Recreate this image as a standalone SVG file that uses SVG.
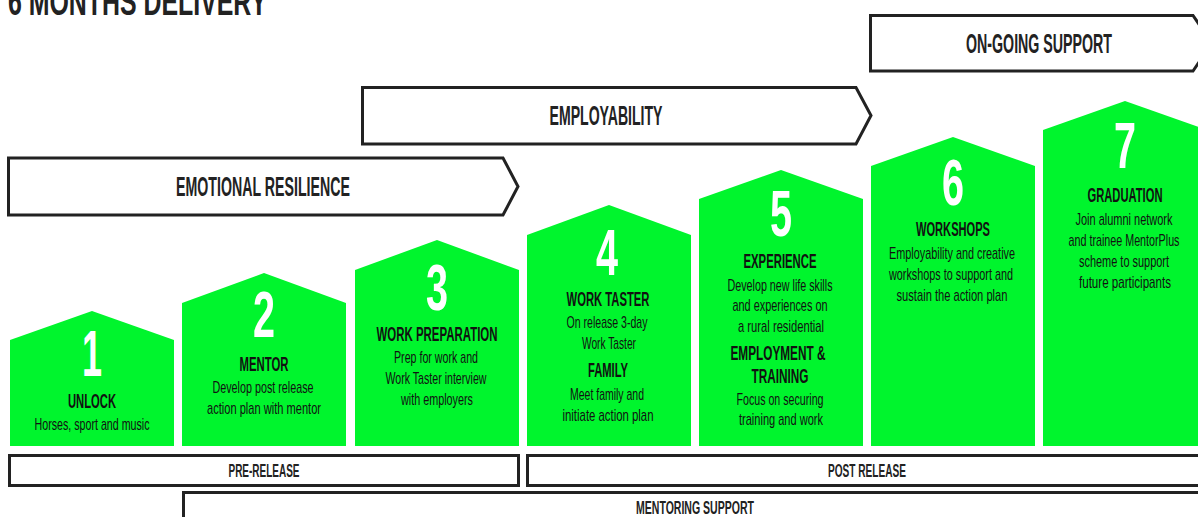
<svg xmlns="http://www.w3.org/2000/svg" width="1198" height="517" viewBox="0 0 1198 517">
<style>
.house{fill:#00f52d}
.frame{fill:#fff;stroke:#222;stroke-width:3}
.num{font-family:"Liberation Sans Narrow","Liberation Sans",Arial,sans-serif;font-weight:bold;font-size:64px;fill:#fff;text-anchor:middle}
.h{font-family:"Liberation Sans Narrow","Liberation Sans",Arial,sans-serif;font-weight:bold;font-size:21px;fill:#111;text-anchor:middle}
.b{font-family:"Liberation Sans Narrow","Liberation Sans",Arial,sans-serif;font-size:17px;fill:#111;text-anchor:middle}
.lab{font-family:"Liberation Sans Narrow","Liberation Sans",Arial,sans-serif;font-weight:bold;font-size:27px;fill:#222;text-anchor:middle}
.bar{font-family:"Liberation Sans Narrow","Liberation Sans",Arial,sans-serif;font-weight:bold;font-size:19px;fill:#222;text-anchor:middle}
</style>
<text x="8" y="15" font-family="'Liberation Sans Narrow','Liberation Sans',Arial,sans-serif" font-weight="bold" font-size="38" fill="#222" textLength="259" lengthAdjust="spacingAndGlyphs">6 MONTHS DELIVERY</text>

<g id="arrow-ongoing">
<polygon class="frame" points="870.5,15.5 1193,15.5 1212,43 1193,71 870.5,71"/>
<text class="lab" x="1039" y="53" textLength="146" lengthAdjust="spacingAndGlyphs">ON-GOING SUPPORT</text>
</g>
<g id="arrow-employability">
<polygon class="frame" points="362.5,87.5 856,87.5 871,115.5 856,144 362.5,144"/>
<text class="lab" x="606" y="125" textLength="113" lengthAdjust="spacingAndGlyphs">EMPLOYABILITY</text>
</g>
<g id="arrow-emotional">
<polygon class="frame" points="8.5,158 503,158 518,186.5 503,215 8.5,215"/>
<text class="lab" x="263" y="196" textLength="174" lengthAdjust="spacingAndGlyphs">EMOTIONAL RESILIENCE</text>
</g>

<g id="step1">
<polygon class="house" points="10,446 10,340 92,311 174,340 174,446"/>
<text class="num" x="92" y="376" textLength="20" lengthAdjust="spacingAndGlyphs">1</text>
<text class="h" x="92" y="408" textLength="48" lengthAdjust="spacingAndGlyphs">UNLOCK</text>
<text class="b" x="92" y="430" textLength="115" lengthAdjust="spacingAndGlyphs">Horses, sport and music</text>
</g>
<g id="step2">
<polygon class="house" points="182,446 182,303 264,273 346,303 346,446"/>
<text class="num" x="264" y="337" textLength="22" lengthAdjust="spacingAndGlyphs">2</text>
<text class="h" x="264" y="371" textLength="49" lengthAdjust="spacingAndGlyphs">MENTOR</text>
<text class="b" x="263" y="393" textLength="101" lengthAdjust="spacingAndGlyphs">Develop post release</text>
<text class="b" x="264" y="414" textLength="114" lengthAdjust="spacingAndGlyphs">action plan with mentor</text>
</g>
<g id="step3">
<polygon class="house" points="355,446 355,270 437,240 519,270 519,446"/>
<text class="num" x="437" y="310" textLength="22" lengthAdjust="spacingAndGlyphs">3</text>
<text class="h" x="437" y="341" textLength="121" lengthAdjust="spacingAndGlyphs">WORK PREPARATION</text>
<text class="b" x="436" y="363" textLength="84" lengthAdjust="spacingAndGlyphs">Prep for work and</text>
<text class="b" x="436" y="384" textLength="101" lengthAdjust="spacingAndGlyphs">Work Taster interview</text>
<text class="b" x="437" y="405" textLength="72" lengthAdjust="spacingAndGlyphs">with employers</text>
</g>
<g id="step4">
<polygon class="house" points="527,446 527,235 609,205 691,235 691,446"/>
<text class="num" x="607" y="275" textLength="22" lengthAdjust="spacingAndGlyphs">4</text>
<text class="h" x="608" y="306" textLength="83" lengthAdjust="spacingAndGlyphs">WORK TASTER</text>
<text class="b" x="607" y="328" textLength="81" lengthAdjust="spacingAndGlyphs">On release 3-day</text>
<text class="b" x="609" y="349" textLength="54" lengthAdjust="spacingAndGlyphs">Work Taster</text>
<text class="h" x="608" y="377" textLength="40" lengthAdjust="spacingAndGlyphs">FAMILY</text>
<text class="b" x="607" y="400" textLength="74" lengthAdjust="spacingAndGlyphs">Meet family and</text>
<text class="b" x="608" y="421" textLength="91" lengthAdjust="spacingAndGlyphs">initiate action plan</text>
</g>
<g id="step5">
<polygon class="house" points="699,446 699,199 781,170 863,199 863,446"/>
<text class="num" x="781" y="236" textLength="22" lengthAdjust="spacingAndGlyphs">5</text>
<text class="h" x="780" y="268" textLength="73" lengthAdjust="spacingAndGlyphs">EXPERIENCE</text>
<text class="b" x="780" y="291" textLength="105" lengthAdjust="spacingAndGlyphs">Develop new life skills</text>
<text class="b" x="780" y="311" textLength="95" lengthAdjust="spacingAndGlyphs">and experiences on</text>
<text class="b" x="781" y="332" textLength="86" lengthAdjust="spacingAndGlyphs">a rural residential</text>
<text class="h" x="778" y="360" textLength="95" lengthAdjust="spacingAndGlyphs">EMPLOYMENT &amp;</text>
<text class="h" x="780" y="383" textLength="57" lengthAdjust="spacingAndGlyphs">TRAINING</text>
<text class="b" x="780" y="405" textLength="87" lengthAdjust="spacingAndGlyphs">Focus on securing</text>
<text class="b" x="781" y="425" textLength="84" lengthAdjust="spacingAndGlyphs">training and work</text>
</g>
<g id="step6">
<polygon class="house" points="871,446 871,166 953,137 1035,166 1035,446"/>
<text class="num" x="953" y="205" textLength="22" lengthAdjust="spacingAndGlyphs">6</text>
<text class="h" x="953" y="236" textLength="74" lengthAdjust="spacingAndGlyphs">WORKSHOPS</text>
<text class="b" x="952" y="259" textLength="126" lengthAdjust="spacingAndGlyphs">Employability and creative</text>
<text class="b" x="951" y="280" textLength="124" lengthAdjust="spacingAndGlyphs">workshops to support and</text>
<text class="b" x="952" y="301" textLength="111" lengthAdjust="spacingAndGlyphs">sustain the action plan</text>
</g>
<g id="step7">
<polygon class="house" points="1043,446 1043,130 1125,101 1207,130 1207,446"/>
<text class="num" x="1125" y="168" textLength="22" lengthAdjust="spacingAndGlyphs">7</text>
<text class="h" x="1125" y="202" textLength="75" lengthAdjust="spacingAndGlyphs">GRADUATION</text>
<text class="b" x="1124" y="225" textLength="97" lengthAdjust="spacingAndGlyphs">Join alumni network</text>
<text class="b" x="1124" y="246" textLength="111" lengthAdjust="spacingAndGlyphs">and trainee MentorPlus</text>
<text class="b" x="1124" y="267" textLength="90" lengthAdjust="spacingAndGlyphs">scheme to support</text>
<text class="b" x="1125" y="288" textLength="92" lengthAdjust="spacingAndGlyphs">future participants</text>
</g>

<g id="bar-prerelease">
<rect class="frame" x="9.5" y="455.5" width="509" height="30"/>
<text class="bar" x="264" y="477" textLength="71" lengthAdjust="spacingAndGlyphs">PRE-RELEASE</text>
</g>
<g id="bar-postrelease">
<rect class="frame" x="527.5" y="455.5" width="690" height="30"/>
<text class="bar" x="867" y="477" textLength="78" lengthAdjust="spacingAndGlyphs">POST RELEASE</text>
</g>
<g id="bar-mentoring">
<rect class="frame" x="183.5" y="492.5" width="1030" height="40"/>
<text class="bar" x="695" y="514" textLength="118" lengthAdjust="spacingAndGlyphs">MENTORING SUPPORT</text>
</g>
<g id="connectors"></g>
</svg>
